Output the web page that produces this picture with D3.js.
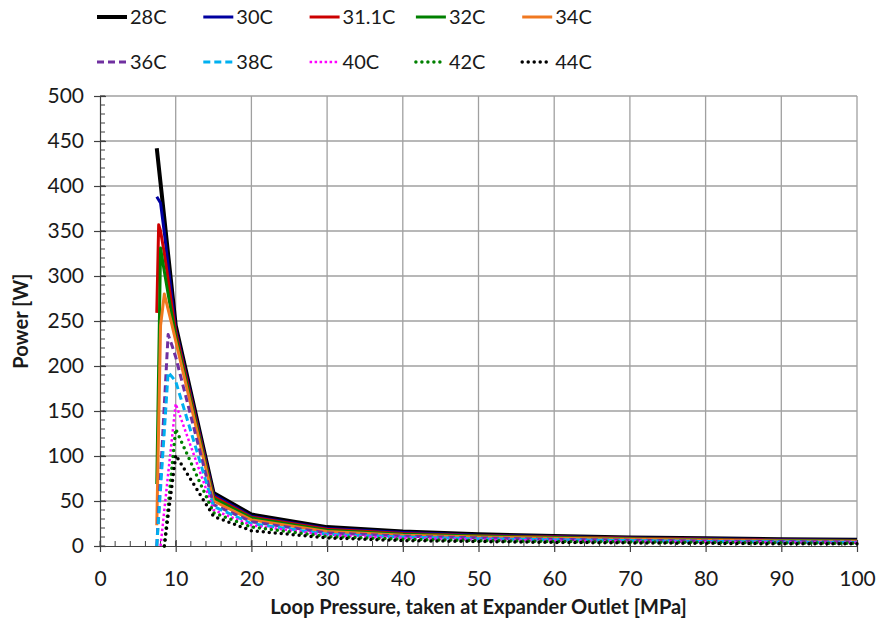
<!DOCTYPE html>
<html>
<head>
<meta charset="utf-8">
<script src="https://cdn.jsdelivr.net/npm/d3@7"></script>
<style>
  body { margin: 0; background: #fff; }
  svg { display: block; font-family: Lato, "Open Sans", sans-serif; }
</style>
</head>
<body>
<svg id="chart" width="878" height="626"></svg>
<script>
// Loop pressure points [MPa] shared by all series (null = no point)
const pressures = [7.5, 7.75, 8, 8.5, 9, 9.5, 10, 15, 20, 30, 40, 50, 60, 70, 80, 90, 100];

// Power [W] per temperature
const p28 = [442, null, 403, 364, 324, 285, 245, 59, 35, 21, 16, 13, 11, 9.5, 8.5, 7.5, 7];
const p30 = [388, null, 381, 348, 312, 276, 241, 57, 33, 19.5, 15, 12, 10.5, 9, 8, 7, 6.5];
const p311 = [259, 357, 350, 325, 296, 266, 238, 55, 32, 18.5, 14, 11.5, 10, 8.5, 7.5, 6.5, 6];
const p32 = [69, null, 331, 305, 280, 256, 233, 53, 31, 17.5, 13, 11, 9.5, 8, 7, 6, 5.5];
const p34 = [23, null, 245, 280, 263, 246, 228, 50, 29, 16, 12, 10, 8.5, 7.5, 6.5, 5.5, 5];
const p36 = [0, null, 78, 157, 235, 223, 210, 46, 27, 14.5, 11, 9, 7.5, 6.5, 5.5, 5, 4.5];
const p38 = [0, null, 64, 128, 193, 188, 183, 44, 25, 13, 10, 8, 7, 6, 5, 4.5, 4];
const p40 = [null, null, 0, 40, 80, 119, 158, 40, 23, 12, 9, 7, 6, 5, 4.5, 4, 3.5];
const p42 = [null, null, null, 0, 43, 87, 130, 37, 21, 10.5, 7.5, 6, 5, 4.5, 4, 3.5, 3];
const p44 = [null, null, null, 0, 34, 67, 101, 33, 17, 9, 6, 5, 4, 3.5, 3, 2.5, 2.5];

const seriesNames = ['28C', '30C', '31.1C', '32C', '34C', '36C', '38C', '40C', '42C', '44C'];
const seriesValues = [p28, p30, p311, p32, p34, p36, p38, p40, p42, p44];

const xTicks = [0, 10, 20, 30, 40, 50, 60, 70, 80, 90, 100];
const yTicks = [0, 50, 100, 150, 200, 250, 300, 350, 400, 450, 500];

// line styles for each series
const styles = [
    { color: '#000000', width: 4, dash: null },
    { color: '#0000a0', width: 3, dash: null },
    { color: '#cc0000', width: 3, dash: null },
    { color: '#008000', width: 3, dash: null },
    { color: '#f07820', width: 3, dash: null },
    { color: '#7030a0', width: 3, dash: '7,4' },
    { color: '#00b0f0', width: 3, dash: '7,4' },
    { color: '#ff00ff', width: 2.5, dash: '2.5,2.5' },
    { color: '#008000', width: 3.5, dash: '0,6', cap: 'round' },
    { color: '#000000', width: 3.5, dash: '0,6', cap: 'round' }
];

const svg = d3.select('#chart');
const plot = { left: 100, right: 857, top: 96, bottom: 546 };
const fontSize = '21px';

const x = d3.scaleLinear().domain([0, 100]).range([plot.left, plot.right]);
const y = d3.scaleLinear().domain([0, 500]).range([plot.bottom, plot.top]);

// grid
svg.append('g').selectAll('line')
    .data(xTicks.slice(1))
    .enter().append('line')
    .attr('x1', d => x(d)).attr('x2', d => x(d))
    .attr('y1', plot.top).attr('y2', plot.bottom)
    .attr('stroke', '#a0a0a0').attr('stroke-width', 1.3);

svg.append('g').selectAll('line')
    .data(yTicks.slice(1))
    .enter().append('line')
    .attr('x1', plot.left).attr('x2', plot.right)
    .attr('y1', d => y(d)).attr('y2', d => y(d))
    .attr('stroke', '#a0a0a0').attr('stroke-width', 1.3);

// axes
const axisColor = '#404040';
const xMinor = d3.range(0, 101, 2);
const yMinor = d3.range(0, 501, 10);

svg.append('g').selectAll('line')
    .data(xMinor)
    .enter().append('line')
    .attr('x1', d => x(d)).attr('x2', d => x(d))
    .attr('y1', plot.bottom).attr('y2', plot.bottom - 5)
    .attr('stroke', axisColor).attr('stroke-width', 1);

svg.append('g').selectAll('line')
    .data(yMinor)
    .enter().append('line')
    .attr('x1', plot.left).attr('x2', plot.left + 5)
    .attr('y1', d => y(d)).attr('y2', d => y(d))
    .attr('stroke', axisColor).attr('stroke-width', 1);

const xAxis = d3.axisBottom(x).tickValues(xTicks).tickSizeInner(6).tickSizeOuter(0).tickPadding(19);
const gx = svg.append('g').attr('transform', `translate(0,${plot.bottom})`).call(xAxis);
const yAxis = d3.axisLeft(y).tickValues(yTicks).tickSizeInner(6).tickSizeOuter(0).tickPadding(10);
const gy = svg.append('g').attr('transform', `translate(${plot.left},0)`).call(yAxis);

[gx, gy].forEach(g => {
    g.select('.domain').attr('stroke', axisColor).attr('stroke-width', 1.2);
    g.selectAll('.tick line').attr('stroke', axisColor).attr('stroke-width', 1.2);
    g.selectAll('.tick text')
        .attr('fill', '#1a1a1a')
        .style('font-size', fontSize)
        .style('font-family', 'Lato, "Open Sans", sans-serif');
});
// major ticks cross the axes
gx.selectAll('.tick line').attr('y1', -6);
gy.selectAll('.tick line').attr('x1', 6);

// series
const line = d3.line()
    .x(d => x(d[0]))
    .y(d => y(d[1]));

seriesValues.forEach((vals, i) => {
    const pts = pressures.map((p, j) => [p, vals[j]]).filter(d => d[1] !== null);
    const s = styles[i];
    svg.append('path')
        .datum(pts)
        .attr('d', line)
        .attr('fill', 'none')
        .attr('stroke', s.color)
        .attr('stroke-width', s.width)
        .attr('stroke-dasharray', s.dash)
        .attr('stroke-linecap', s.cap || 'butt')
        .attr('stroke-linejoin', 'round');
});

// legend
const legend = svg.selectAll('.legend')
    .data(seriesNames)
    .enter().append('g')
    .attr('class', 'legend')
    .attr('transform', (d, i) => `translate(${97 + (i % 5) * 106.3},${i < 5 ? 17 : 62})`);

legend.append('line')
    .attr('x1', 0).attr('x2', 30)
    .attr('y1', 0).attr('y2', 0)
    .attr('stroke', (d, i) => styles[i].color)
    .attr('stroke-width', (d, i) => styles[i].width)
    .attr('stroke-dasharray', (d, i) => styles[i].dash)
    .attr('stroke-linecap', (d, i) => styles[i].cap || 'butt');

legend.append('text')
    .attr('x', 33)
    .attr('y', 0)
    .attr('dy', '0.36em')
    .style('font-size', '20px')
    .attr('fill', '#1a1a1a')
    .text(d => d);

// axis titles
svg.append('text')
    .attr('x', (plot.left + plot.right) / 2)
    .attr('y', 614)
    .attr('text-anchor', 'middle')
    .style('font-size', '20px')
    .style('font-weight', 'bold')
    .attr('fill', '#1a1a1a')
    .text('Loop Pressure, taken at Expander Outlet [MPa]');

svg.append('text')
    .attr('transform', `translate(28,${(plot.top + plot.bottom) / 2}) rotate(-90)`)
    .attr('text-anchor', 'middle')
    .style('font-size', '20px')
    .style('font-weight', 'bold')
    .attr('fill', '#1a1a1a')
    .text('Power [W]');
</script>
</body>
</html>
